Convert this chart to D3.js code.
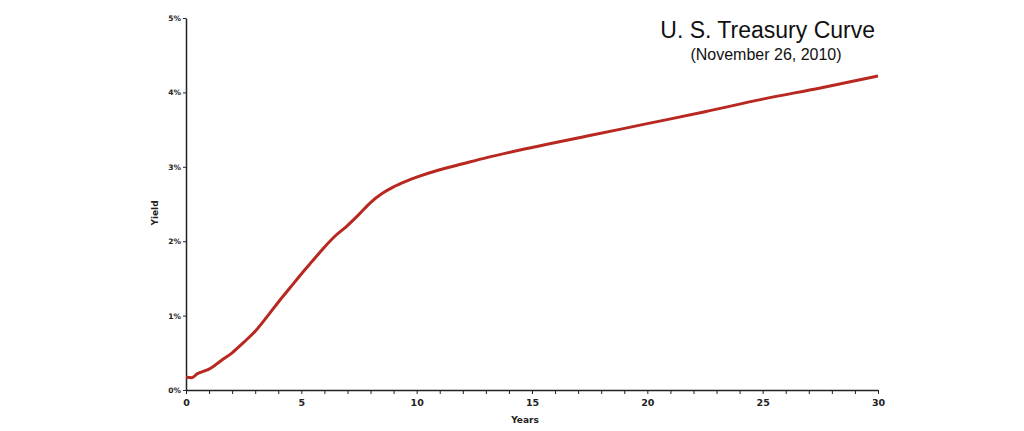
<!DOCTYPE html>
<html>
<head>
<meta charset="utf-8">
<script src="https://cdn.jsdelivr.net/npm/d3@7"></script>
<style>
  body { margin: 0; background: #fff; }
  svg { display: block; }
</style>
</head>
<body>
<svg id="chart" width="1024" height="431"></svg>
<script>
// yield curve
const years = [0, 0.25, 0.5, 0.75, 1, 1.5, 2, 2.5, 3, 3.5, 4, 4.5, 5, 5.5, 6, 6.5, 7, 7.5, 8, 8.5, 9, 9.5, 10, 11, 12, 13, 15, 17.5, 20, 22.5, 25, 27.5, 30];
const yields = [0.17, 0.165, 0.22, 0.25, 0.28, 0.39, 0.50, 0.64, 0.79, 0.98, 1.18, 1.37, 1.56, 1.74, 1.92, 2.08, 2.21, 2.36, 2.52, 2.64, 2.73, 2.80, 2.86, 2.96, 3.04, 3.12, 3.26, 3.42, 3.58, 3.74, 3.91, 4.06, 4.22];
const xTicks = [0, 5, 10, 15, 20, 25, 30];
const yTicks = [0, 1, 2, 3, 4, 5];
const title = 'U. S. Treasury Curve';
const subtitle = '(November 26, 2010)';

const svg = d3.select('#chart');
const x = d3.scaleLinear().domain([0, 30]).range([186, 878]);
const y = d3.scaleLinear().domain([0, 5]).range([390, 18]);

const data = years.map((d, i) => ({ t: d, v: yields[i] }));

// x axis: minor tick each year, label every 5
const xAxis = svg.append('g').attr('transform', 'translate(0,390)')
    .call(d3.axisBottom(x).tickValues(d3.range(0, 31)).tickSize(4).tickSizeOuter(0)
        .tickFormat(d => xTicks.includes(d) ? d : ''));
xAxis.select('.domain').attr('stroke', '#222').attr('stroke-width', 1.5);
xAxis.selectAll('.tick line').attr('stroke', '#222').attr('stroke-width', 1);
xAxis.selectAll('.tick text')
    .attr('font-family', 'DejaVu Sans, Verdana, sans-serif')
    .attr('font-size', 9.5).attr('font-weight', 'bold').attr('fill', '#222').attr('dy', '0.9em');

const yAxis = svg.append('g').attr('transform', 'translate(186,0)')
    .call(d3.axisLeft(y).tickValues(yTicks).tickSize(3).tickSizeOuter(0).tickFormat(d => d + '%'));
yAxis.select('.domain').attr('stroke', '#222').attr('stroke-width', 1.5);
yAxis.selectAll('.tick line').attr('stroke', '#222').attr('stroke-width', 1);
yAxis.selectAll('.tick text')
    .attr('font-family', 'DejaVu Sans, Verdana, sans-serif')
    .attr('font-size', 7.5).attr('font-weight', 'bold').attr('fill', '#222').attr('x', -5);

svg.append('text')
    .attr('x', 525).attr('y', 423).attr('text-anchor', 'middle')
    .attr('font-family', 'DejaVu Sans, Verdana, sans-serif').attr('font-size', 9)
    .attr('font-weight', 'bold').attr('fill', '#222')
    .text('Years');

svg.append('text')
    .attr('transform', 'translate(158,213) rotate(-90)').attr('text-anchor', 'middle')
    .attr('font-family', 'DejaVu Sans, Verdana, sans-serif').attr('font-size', 9)
    .attr('font-weight', 'bold').attr('fill', '#222')
    .text('Yield');

const line = d3.line()
    .x(d => x(d.t))
    .y(d => y(d.v))
    .curve(d3.curveMonotoneX);

svg.append('path')
    .datum(data)
    .attr('fill', 'none')
    .attr('stroke', '#b82820')
    .attr('stroke-width', 3)
    .attr('stroke-linejoin', 'round')
    .attr('d', line);

svg.append('text')
    .attr('x', 875).attr('y', 38).attr('text-anchor', 'end')
    .attr('font-family', 'Liberation Sans, Arial, sans-serif').attr('font-size', 23)
    .attr('fill', '#111')
    .text(title);

svg.append('text')
    .attr('x', 766).attr('y', 60).attr('text-anchor', 'middle')
    .attr('font-family', 'Liberation Sans, Arial, sans-serif').attr('font-size', 16)
    .attr('fill', '#111')
    .text(subtitle);
</script>
</body>
</html>
